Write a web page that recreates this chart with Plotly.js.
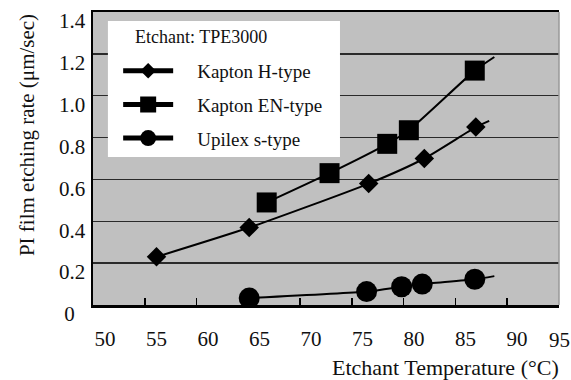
<!DOCTYPE html>
<html>
<head>
<meta charset="utf-8">
<script src="https://cdn.plot.ly/plotly-3.0.1.min.js"></script>
<style>html,body{margin:0;padding:0;background:#fff;}#chart{width:571px;height:380px;}</style>
</head>
<body>
<div id="chart"></div>
<script>
// ---- data ----
const seriesNames = ['Kapton H-type', 'Kapton EN-type', 'Upilex s-type'];
const legendTitle = 'Etchant: TPE3000';

const hX = [55, 64, 75.6, 81, 86];
const hY = [0.23, 0.37, 0.58, 0.70, 0.85];
const enX = [65.7, 71.8, 77.4, 79.5, 85.9];
const enY = [0.49, 0.63, 0.77, 0.835, 1.12];
const upX = [64, 75.4, 78.8, 80.8, 85.9];
const upY = [0.033, 0.064, 0.087, 0.10, 0.123];

// trend lines (as drawn in the picture, incl. their extension past the last point)
const hTrendX = [55, 64, 75.6, 81, 86, 87.3];
const hTrendY = [0.23, 0.37, 0.58, 0.70, 0.85, 0.88];
const enTrendX = [65.7, 71.8, 77.4, 79.5, 85.9, 87.8];
const enTrendY = [0.49, 0.63, 0.77, 0.835, 1.12, 1.185];
const upTrendX = [64, 75.4, 78.8, 80.8, 85.9, 87.8];
const upTrendY = [0.033, 0.064, 0.087, 0.10, 0.123, 0.138];

const xTickVals = [50, 55, 60, 65, 70, 75, 80, 85, 90];
const xTickText = ['50', '55', '60', '65', '70', '75', '80', '85', '90'];
const xMarkVals = [55, 60, 65, 70, 75, 80, 85, 90, 95];
const xLastTick = 95;
const yTickVals = [0, 0.2, 0.4, 0.6, 0.8, 1.0, 1.2, 1.4];
const yTickText = ['0\u00a0\u00a0', '0.2', '0.4', '0.6', '0.8', '1.0', '1.2', '1.4'];

const xTitle = 'Etchant Temperature (°C)';
const yTitle = 'PI film etching rate (μm/sec)';

const FONT = "'Liberation Serif', 'Times New Roman', Times, serif";
const INK = '#111';

function trend(x, y) {
  return {x: x, y: y, mode: 'lines', line: {color: '#000', width: 2, shape: 'spline', smoothing: 0.6},
          showlegend: false, hoverinfo: 'skip'};
}
function pts(x, y, sym, size, name) {
  return {x: x, y: y, mode: 'markers', name: name, marker: {symbol: sym, size: size, color: '#000'},
          showlegend: false};
}
function legendEntry(sym, size, name, grp) {
  return {x: [null], y: [null], mode: 'lines+markers', name: '\u00a0\u00a0\u00a0\u00a0' + name, legendgroup: grp,
          line: {color: '#000', width: 5}, marker: {symbol: sym, size: size, color: '#000'}};
}

const traces = [
  trend(hTrendX, hTrendY),
  trend(enTrendX, enTrendY),
  trend(upTrendX, upTrendY),
  pts(hX, hY, 'diamond', 15, seriesNames[0]),
  pts(enX, enY, 'square', 20, seriesNames[1]),
  pts(upX, upY, 'circle', 21, seriesNames[2]),
  legendEntry('diamond', 12, seriesNames[0], 'a'),
  legendEntry('square', 16, seriesNames[1], 'b'),
  legendEntry('circle', 16, seriesNames[2], 'c'),
  // carrier for the tick-mark axis (no visible marks)
  {x: xMarkVals, y: xMarkVals.map(() => null), xaxis: 'x2', yaxis: 'y', mode: 'markers',
   showlegend: false, hoverinfo: 'skip'}
];

const layout = {
  width: 571, height: 380,
  margin: {l: 93, r: 12, t: 12, b: 75},
  paper_bgcolor: '#fff',
  plot_bgcolor: '#c0c0c0',
  font: {family: FONT, color: INK, size: 20},
  showlegend: true,
  xaxis: {
    range: [48.835, 94.078],
    tickvals: xTickVals, ticktext: xTickText,
    ticks: '', showgrid: false, zeroline: false,
    showline: true, linecolor: '#000', linewidth: 2.5, mirror: true,
    tickfont: {family: FONT, size: 21, color: INK},
    ticklabelstandoff: 13
  },
  xaxis2: {
    overlaying: 'x', anchor: 'y', side: 'bottom',
    range: [50, 95],
    tickvals: xMarkVals, showticklabels: false,
    ticks: 'inside', ticklen: 7, tickwidth: 1.5, tickcolor: '#000',
    showgrid: false, zeroline: false, showline: false
  },
  yaxis: {
    range: [0, 1.4],
    tickvals: yTickVals, ticktext: yTickText,
    ticks: '', showgrid: true, gridcolor: '#2a2a2a', gridwidth: 1.5,
    zeroline: false, showline: true, linecolor: '#000', linewidth: 2.5,
    tickfont: {family: FONT, size: 21, color: INK},
    ticklabelshift: 9, ticklabelstandoff: 1
  },
  legend: {
    x: 0.054, y: 0.864, xanchor: 'left', yanchor: 'top',
    bgcolor: 'rgba(0,0,0,0)', borderwidth: 0,
    font: {family: FONT, size: 19, color: INK},
    traceorder: 'grouped', tracegroupgap: 6,
    itemwidth: 50
  },
  shapes: [
    {type: 'rect', xref: 'paper', yref: 'paper', x0: 0.032, x1: 0.53, y0: 0.505, y1: 0.969,
     fillcolor: '#fff', line: {width: 0}, layer: 'above'},
    {type: 'line', xref: 'paper', yref: 'paper', x0: 1, x1: 1, y0: 0, y1: 1,
     line: {color: '#999', width: 1.5}}
  ],
  annotations: [
    {text: String(xLastTick), xref: 'x2', yref: 'paper', x: xLastTick, y: -0.1195, xanchor: 'center', yanchor: 'middle',
     showarrow: false, font: {family: FONT, size: 21, color: INK}},
    {text: legendTitle, xref: 'paper', yref: 'paper', x: 0.0858, y: 0.915, xanchor: 'left', yanchor: 'middle',
     showarrow: false, font: {family: FONT, size: 18, color: INK}},
    {text: xTitle, xref: 'paper', yref: 'paper', x: 0.7575, y: -0.215, xanchor: 'center', yanchor: 'middle',
     showarrow: false, font: {family: FONT, size: 22, color: INK}},
    {text: yTitle, xref: 'paper', yref: 'paper', x: -0.1416, y: 0.58, xanchor: 'center', yanchor: 'middle',
     textangle: -90, showarrow: false, font: {family: FONT, size: 21, color: INK}}
  ]
};

Plotly.newPlot('chart', traces, layout, {displayModeBar: false, staticPlot: true});
</script>
</body>
</html>
